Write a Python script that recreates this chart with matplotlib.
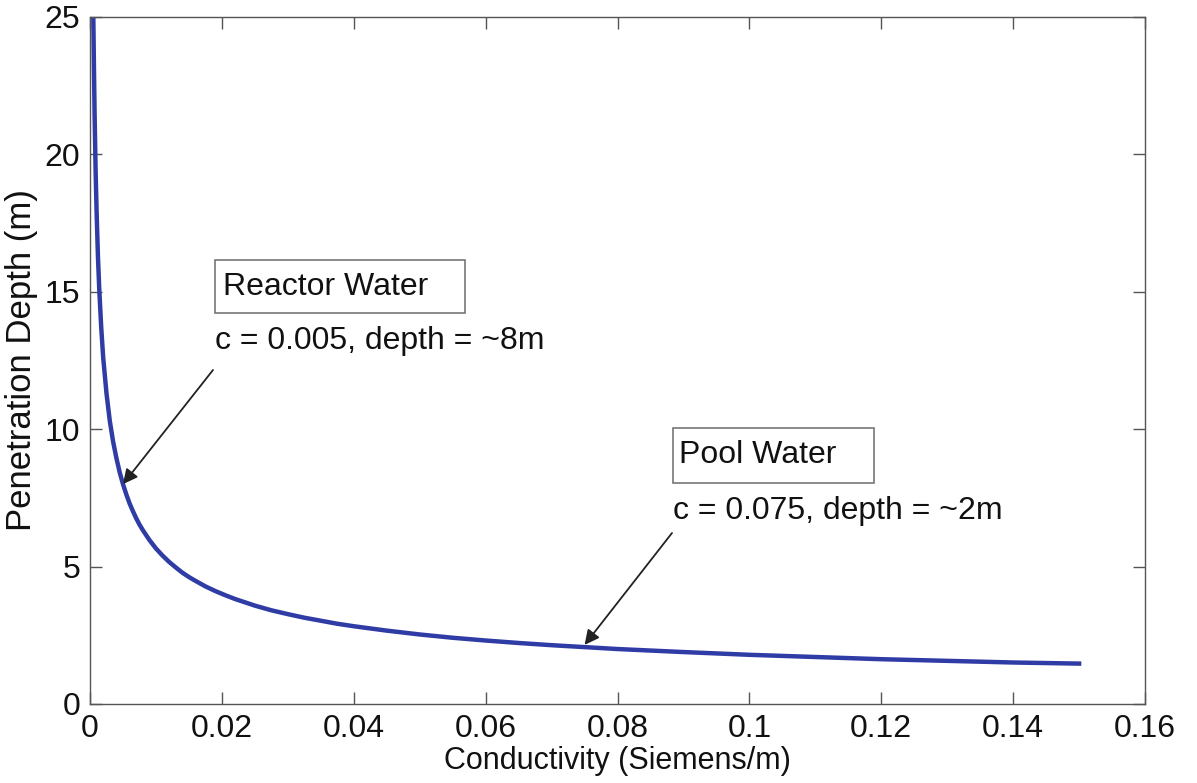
import numpy as np
import matplotlib
matplotlib.use('Agg')
import matplotlib.pyplot as plt
from matplotlib.patches import Rectangle

plt.rcParams['font.family'] = ['Liberation Sans', 'DejaVu Sans']

# values
conductivity = [0.0005, 0.0006, 0.0007, 0.00085, 0.001, 0.0012, 0.0014, 0.0017,
                0.002, 0.0025, 0.003, 0.0035, 0.004, 0.0045, 0.005, 0.0055,
                0.006, 0.0065, 0.007, 0.0075, 0.008, 0.009, 0.01, 0.011, 0.012,
                0.013, 0.014, 0.015, 0.016, 0.0175, 0.019, 0.0205, 0.022,
                0.025, 0.0275, 0.03, 0.0325, 0.035, 0.0375, 0.04, 0.045, 0.05,
                0.055, 0.06, 0.065, 0.07, 0.08, 0.09, 0.1, 0.11, 0.12, 0.13,
                0.14, 0.15]
depth = [25.0, 23.1, 21.4, 19.4, 17.9, 16.3, 15.1, 13.7,
         12.6, 11.3, 10.3, 9.55, 8.95, 8.43, 8.0, 7.63,
         7.3, 7.02, 6.76, 6.53, 6.33, 5.97, 5.66, 5.4, 5.17,
         4.97, 4.78, 4.62, 4.48, 4.28, 4.11, 3.96, 3.82,
         3.58, 3.41, 3.27, 3.14, 3.03, 2.92, 2.83, 2.67, 2.53,
         2.41, 2.31, 2.22, 2.14, 2.0, 1.89, 1.79, 1.71, 1.63, 1.57,
         1.51, 1.47]

x_ticks = [0, 0.02, 0.04, 0.06, 0.08, 0.1, 0.12, 0.14, 0.16]
x_tick_labels = ['0', '0.02', '0.04', '0.06', '0.08', '0.1', '0.12', '0.14', '0.16']
y_ticks = [0, 5, 10, 15, 20, 25]

reactor_point = (0.005, 8.0)
pool_point = (0.075, 2.15)

fig = plt.figure(figsize=(11.97, 7.83), dpi=100)
ax = fig.add_axes([0.0752, 0.1009, 0.8814, 0.8774])

ax.plot(conductivity, depth, color='#2f3ca6', linewidth=3.2,
        solid_joinstyle='round')

ax.set_xlim(0, 0.16)
ax.set_ylim(0, 25)
ax.set_xticks(x_ticks)
ax.set_xticklabels(x_tick_labels)
ax.set_yticks(y_ticks)
ax.tick_params(direction='in', length=8.5, width=1, color='#555555',
               labelsize=23, labelcolor='#111111', top=True, right=True, pad=7)
for s in ax.spines.values():
    s.set_color('#555555')
    s.set_linewidth(1)

ax.set_xlabel('Conductivity (Siemens/m)', fontsize=22, labelpad=2, color='#111111')
ax.set_ylabel('Penetration Depth (m)', fontsize=25, labelpad=5, color='#111111')

# text boxes (MATLAB style annotations)
fig.patches.append(Rectangle((215 / 1197, 1 - 313 / 783), 250 / 1197, 53 / 783,
                             transform=fig.transFigure, fill=False,
                             edgecolor='#777777', linewidth=1.2))
fig.text(223 / 1197, 1 - 287 / 783, 'Reactor Water', fontsize=23, va='center',
         color='#111111')
fig.text(215 / 1197, 1 - 341 / 783, 'c = 0.005, depth = ~8m', fontsize=23,
         va='center', color='#111111')

fig.patches.append(Rectangle((673 / 1197, 1 - 483 / 783), 201 / 1197, 55 / 783,
                             transform=fig.transFigure, fill=False,
                             edgecolor='#777777', linewidth=1.2))
fig.text(679 / 1197, 1 - 455 / 783, 'Pool Water', fontsize=23, va='center',
         color='#111111')
fig.text(673 / 1197, 1 - 511 / 783, 'c = 0.075, depth = ~2m', fontsize=23,
         va='center', color='#111111')

arrow = dict(arrowstyle='-|>', color='#222222', lw=1.3, mutation_scale=22,
             shrinkA=0, shrinkB=0)
ax.annotate('', xy=reactor_point, xycoords='data',
            xytext=(213, 783 - 370), textcoords='figure pixels', arrowprops=arrow)
ax.annotate('', xy=pool_point, xycoords='data',
            xytext=(672, 783 - 533), textcoords='figure pixels', arrowprops=arrow)

fig.savefig('out.png', dpi=100, facecolor='white')
